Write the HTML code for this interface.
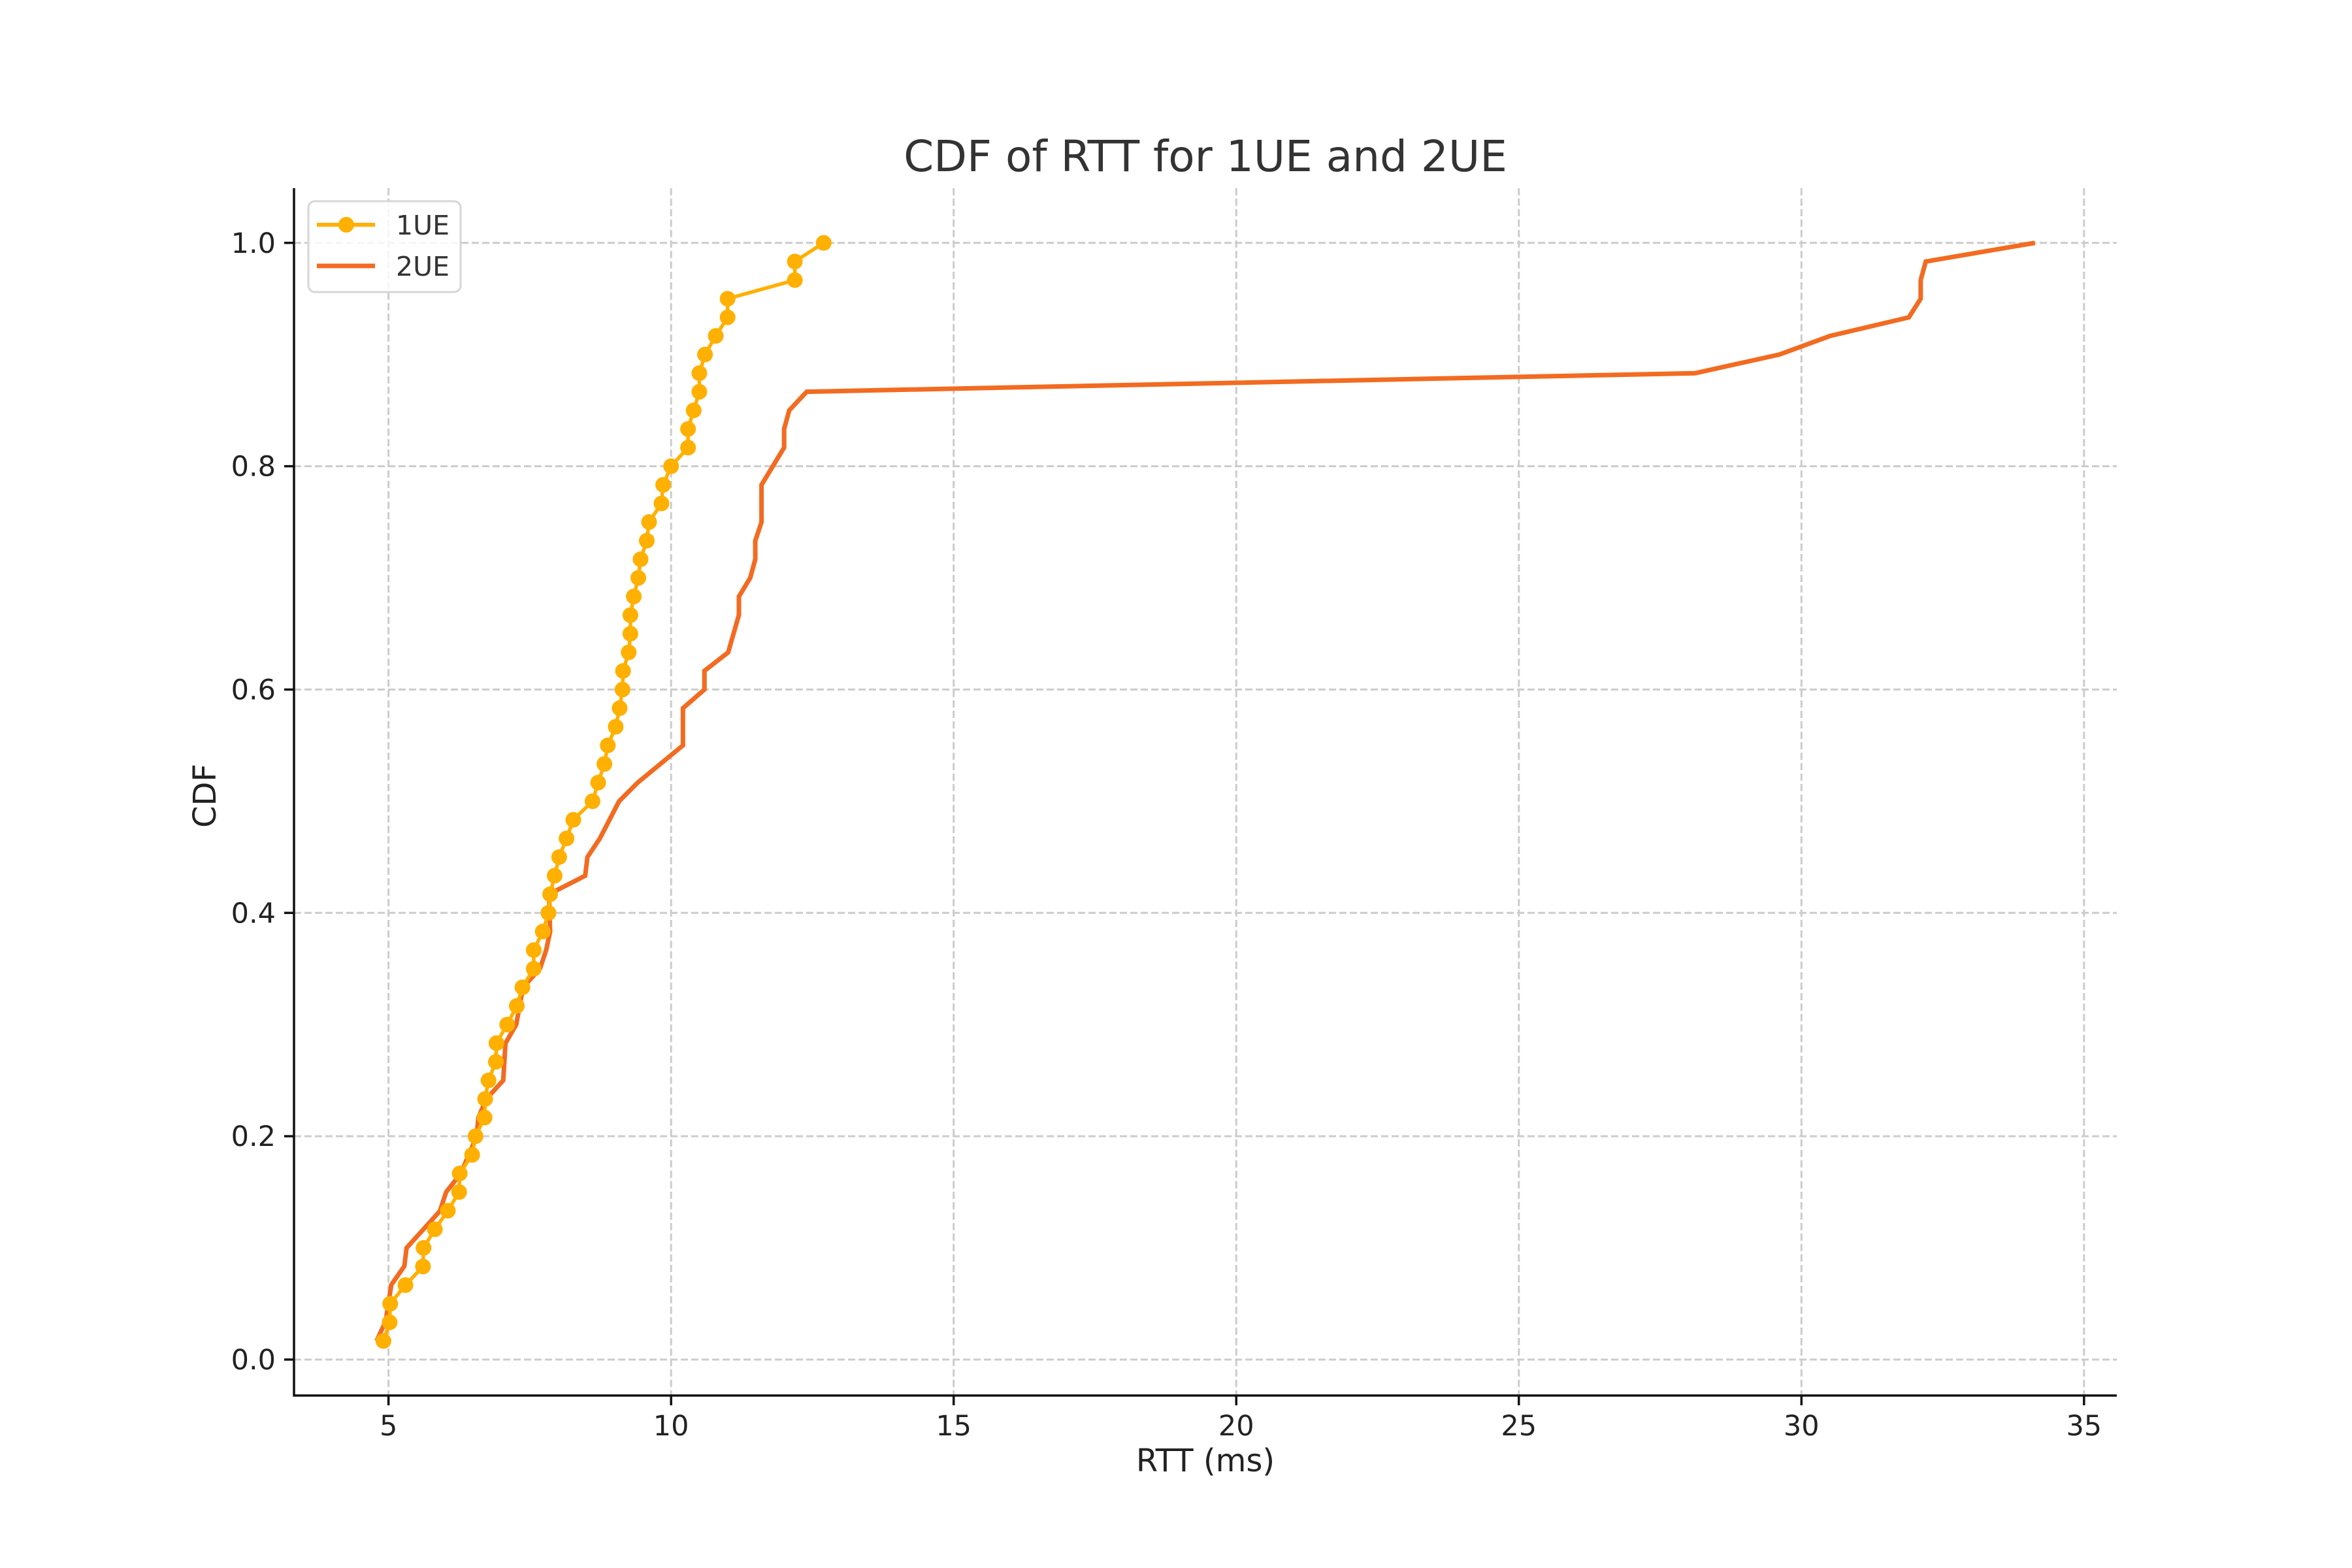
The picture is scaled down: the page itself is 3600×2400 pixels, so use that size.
<!DOCTYPE html>
<html><head><meta charset="utf-8"><style>
html,body{margin:0;padding:0;background:#fff;}
svg{display:block;font-family:"DejaVu Sans","Liberation Sans",sans-serif;}
</style></head><body>
<svg id="chart" width="3600" height="2400" viewBox="0 0 3600 2400" xmlns="http://www.w3.org/2000/svg">
<rect width="3600" height="2400" fill="#fff"/>
<g id="grid"></g>
<g id="series"></g>
<g id="axes"></g>
<text x="1845" y="262" text-anchor="middle" font-size="66" fill="#333">CDF of RTT for 1UE and 2UE</text>
<text x="1845" y="2252" text-anchor="middle" font-size="48" fill="#222">RTT (ms)</text>
<text x="0" y="0" transform="translate(330,1218) rotate(-90)" text-anchor="middle" font-size="48" fill="#222">CDF</text>
<g>
<rect x="472" y="308" width="233" height="139" rx="10" fill="#fff" fill-opacity="0.8" stroke="#d6d6d6" stroke-width="3"/>
<line x1="485" y1="344" x2="574" y2="344" stroke="#FFB000" stroke-width="6"/>
<circle cx="530" cy="344" r="12" fill="#FFB000"/>
<text x="606" y="359" font-size="41" fill="#333">1UE</text>
<line x1="485" y1="407" x2="574" y2="407" stroke="#F26B21" stroke-width="7"/>
<text x="606" y="422" font-size="41" fill="#333">2UE</text>
</g>
</svg>
<script>
const xTicks = [5, 10, 15, 20, 25, 30, 35];
const yTicks = [0.0, 0.2, 0.4, 0.6, 0.8, 1.0];
const yTickLabels = ["0.0", "0.2", "0.4", "0.6", "0.8", "1.0"];
const ue1X = [4.91,5.02,5.03,5.30,5.61,5.62,5.82,6.05,6.25,6.26,6.48,6.54,6.70,6.71,6.77,6.90,6.91,7.10,7.27,7.37,7.57,7.57,7.73,7.83,7.86,7.94,8.02,8.15,8.27,8.61,8.71,8.82,8.88,9.02,9.09,9.14,9.15,9.25,9.28,9.28,9.34,9.42,9.46,9.57,9.61,9.83,9.86,10.0,10.30,10.30,10.40,10.50,10.50,10.60,10.79,11.00,11.00,12.19,12.19,12.70];
const ue1Y = ue1X.map((_, i) => (i + 1) / 60);
const ue2X = [4.79,4.95,5.05,5.28,5.32,5.91,6.02,6.28,6.56,6.59,6.73,7.03,7.07,7.26,7.38,7.68,7.79,7.86,7.84,8.48,8.52,8.74,9.08,9.41,10.21,10.21,10.59,10.59,11.01,11.20,11.20,11.40,11.49,11.49,11.60,11.60,12.00,12.00,12.09,12.40,28.12,29.61,30.51,31.90,32.11,32.11,32.20,34.13];
const ue2Y = [0.0167,0.0343,0.067,0.0836,0.1,0.133,0.15,0.1667,0.2,0.2167,0.2333,0.25,0.2833,0.3,0.3333,0.35,0.3667,0.3833,0.4167,0.4333,0.45,0.4667,0.5,0.5167,0.55,0.5833,0.6,0.6167,0.6333,0.6667,0.6833,0.7,0.7167,0.7333,0.75,0.7833,0.8167,0.8333,0.85,0.8667,0.8833,0.9,0.9167,0.9333,0.95,0.9667,0.9833,1.0];

const L=450,R=3240,T=288,B=2136;
const xMin=3.328,xMax=35.58,yMin=-0.0322,yMax=1.049;
const sx=v=>L+(v-xMin)/(xMax-xMin)*(R-L);
const sy=v=>B-(v-yMin)/(yMax-yMin)*(B-T);
const NS="http://www.w3.org/2000/svg";
function mk(tag,attrs,parent){const e=document.createElementNS(NS,tag);for(const k in attrs)e.setAttribute(k,attrs[k]);parent.appendChild(e);return e;}
const grid=document.getElementById('grid'),axes=document.getElementById('axes'),series=document.getElementById('series');

xTicks.forEach(t=>{
  const x=sx(t);
  const g=mk('line',{x1:x,y1:T,x2:x,y2:B,stroke:'#cccccc','stroke-width':3,'stroke-dasharray':'11,5'},grid);
  
  
  const tk=mk('line',{x1:x,y1:B,x2:x,y2:B+15,stroke:'#111','stroke-width':3.5},axes);
  
  
  const lb=mk('text',{x:x,y:B+61,'text-anchor':'middle','font-size':43,fill:'#222'},axes);
  lb.textContent=String(t);
  
  
});
yTicks.forEach((t,i)=>{
  const y=sy(t);
  const g=mk('line',{x1:L,y1:y,x2:R,y2:y,stroke:'#cccccc','stroke-width':3,'stroke-dasharray':'11,5'},grid);
  
  
  const tk=mk('line',{x1:L-15,y1:y,x2:L,y2:y,stroke:'#111','stroke-width':3.5},axes);
  
  
  const lb=mk('text',{x:L-28,y:y+15,'text-anchor':'end','font-size':43,fill:'#222'},axes);
  lb.textContent=yTickLabels[i];
  
  
});
const sl=mk('line',{x1:L,y1:T,x2:L,y2:B+1.5,stroke:'#111','stroke-width':3.5},axes);


const sb=mk('line',{x1:L-1.5,y1:B,x2:R,y2:B,stroke:'#111','stroke-width':3.5},axes);



const p2=mk('polyline',{points:ue2X.map((x,i)=>sx(x)+','+sy(ue2Y[i])).join(' '),fill:'none',stroke:'#F26B21','stroke-width':7,'stroke-linejoin':'miter'},series);


const p1=mk('polyline',{points:ue1X.map((x,i)=>sx(x)+','+sy(ue1Y[i])).join(' '),fill:'none',stroke:'#FFB000','stroke-width':5.5},series);


ue1X.forEach((x,i)=>{
  const c=mk('circle',{cx:sx(x),cy:sy(ue1Y[i]),r:12,fill:'#FFB000'},series);
  
  
});
</script>
</body></html>
